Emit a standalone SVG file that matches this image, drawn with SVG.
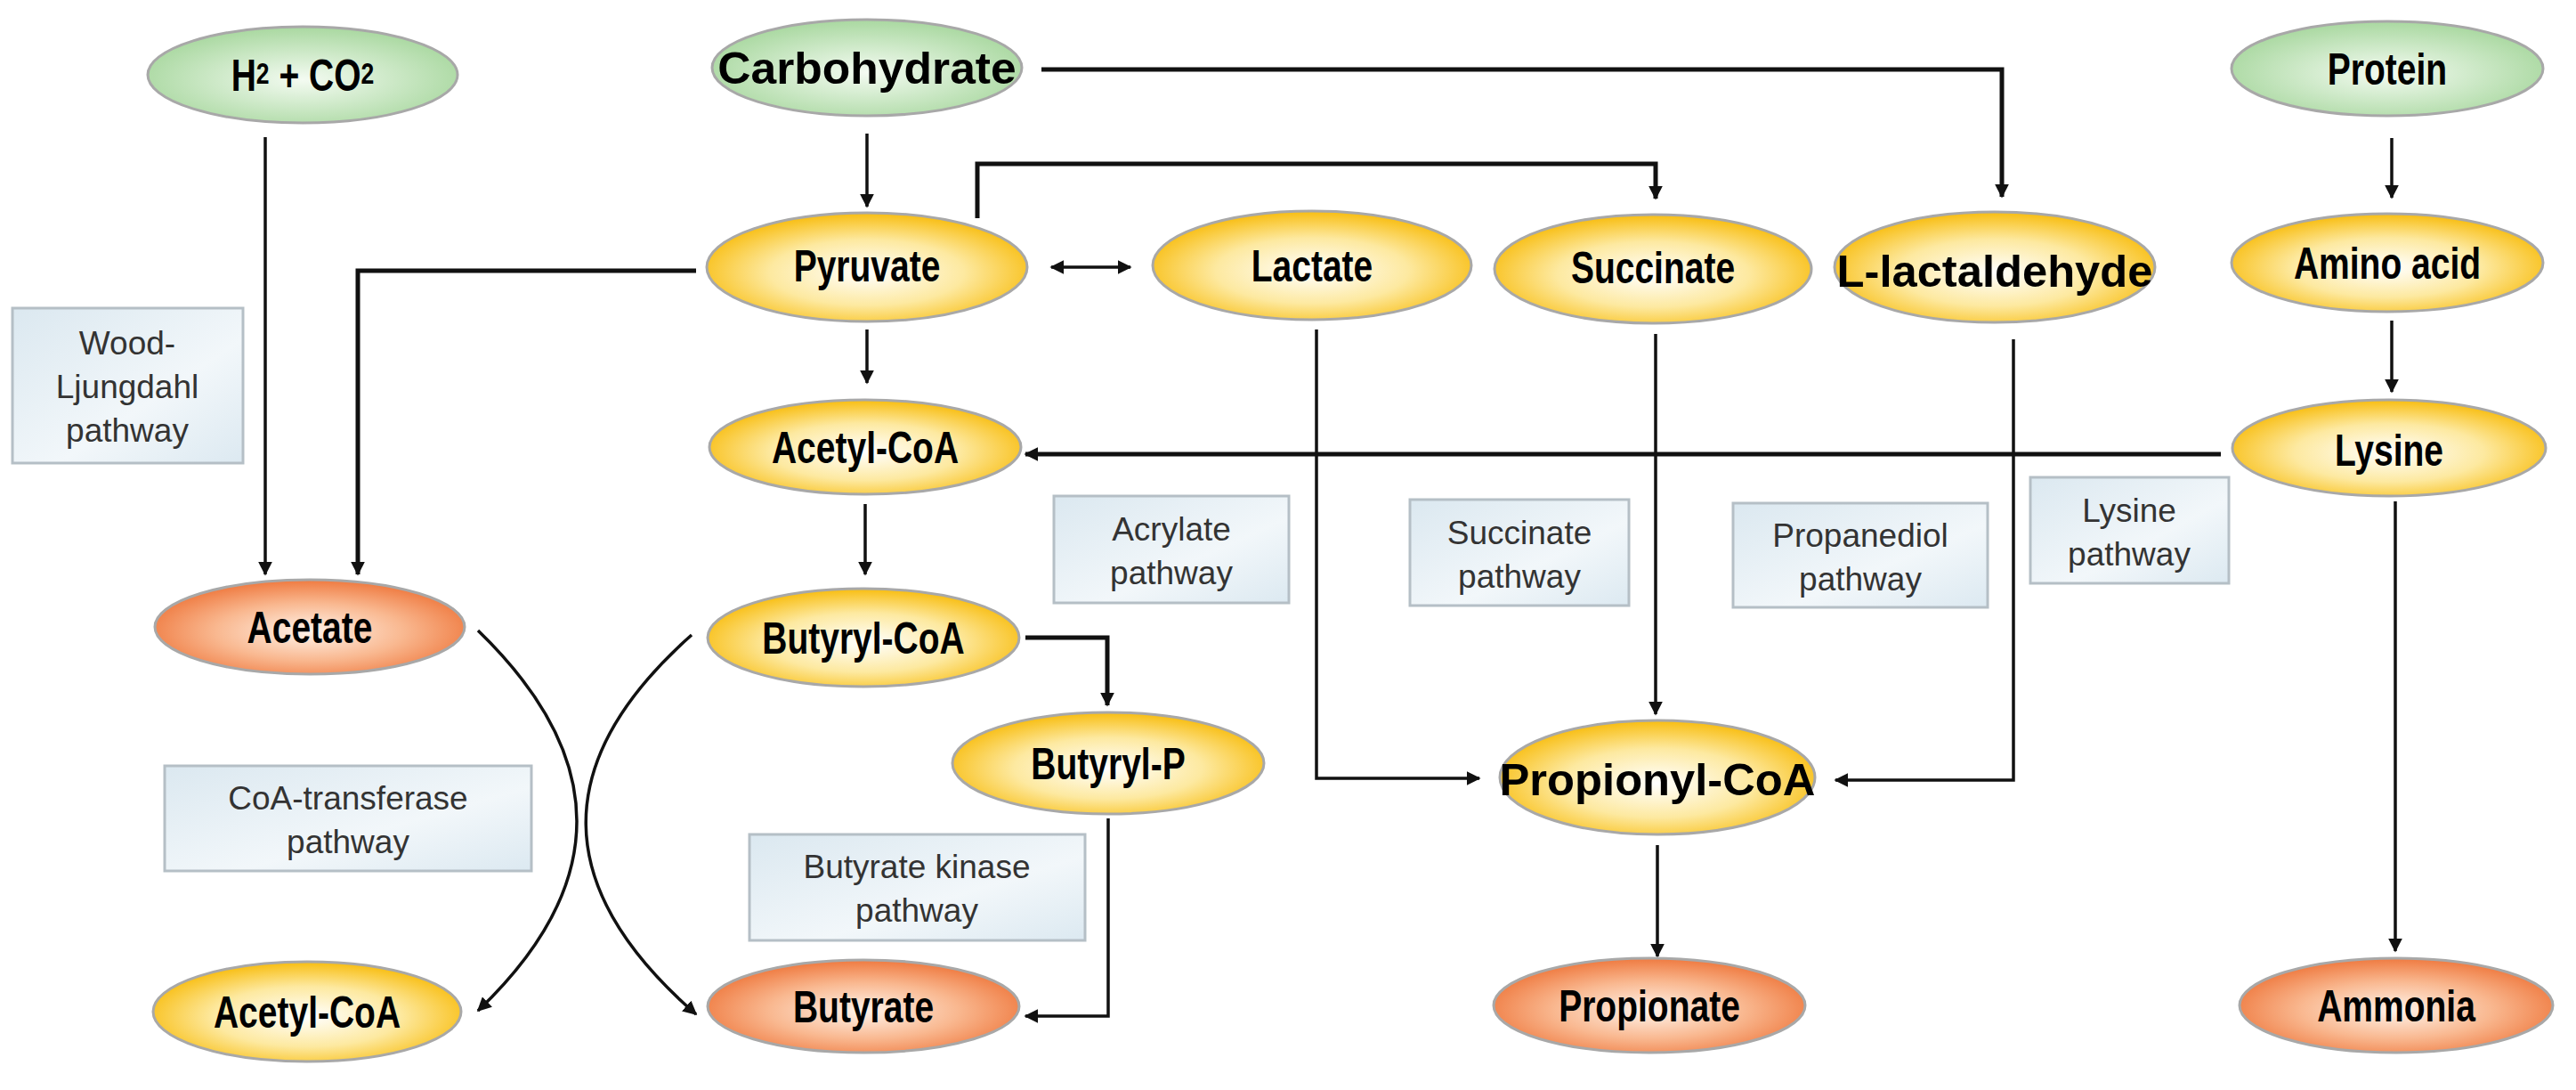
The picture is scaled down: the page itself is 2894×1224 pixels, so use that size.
<svg xmlns="http://www.w3.org/2000/svg" width="2894" height="1224" viewBox="0 0 2894 1224">
<defs>
<radialGradient id="gy" cx="50%" cy="55%" r="55%"><stop offset="0" stop-color="#ffffff"/><stop offset="0.55" stop-color="#fde9a0"/><stop offset="1" stop-color="#f8bd10"/></radialGradient>
<radialGradient id="gg" cx="50%" cy="55%" r="55%"><stop offset="0" stop-color="#f4fbf2"/><stop offset="1" stop-color="#a9d8a0"/></radialGradient>
<radialGradient id="go" cx="50%" cy="55%" r="55%"><stop offset="0" stop-color="#fff3ea"/><stop offset="0.55" stop-color="#f9b890"/><stop offset="1" stop-color="#ef7a40"/></radialGradient>
<linearGradient id="gb" x1="0" y1="0" x2="1" y2="1"><stop offset="0" stop-color="#dbe8f0"/><stop offset="0.6" stop-color="#f2f7fa"/><stop offset="1" stop-color="#dce9f1"/></linearGradient>
<marker id="as" viewBox="0 0 10 10" refX="9" refY="5" markerWidth="16" markerHeight="16" markerUnits="userSpaceOnUse" orient="auto-start-reverse"><path d="M0,0 L10,5 L0,10 z" fill="#111"/></marker>
</defs>
<style>
.n{stroke:#a8a8a8;stroke-width:3}
.t{font-family:"Liberation Sans",Arial,sans-serif;font-weight:bold;font-size:50px;fill:#000;text-anchor:middle}
.b{fill:url(#gb);stroke:#b5bfc6;stroke-width:3}
.bt{font-family:"Liberation Sans",Arial,sans-serif;font-size:37px;fill:#333;text-anchor:middle}
.c{fill:none;stroke:#111;stroke-width:3.5}
.k{fill:none;stroke:#111;stroke-width:5}
</style>
<rect width="2894" height="1224" fill="#fff"/>
<g id="connectors">
<path class="c" d="M298,154 V645" marker-end="url(#as)"/>
<path class="k" d="M782,304 H402 V645" marker-end="url(#as)"/>
<path class="c" d="M974,150 V232" marker-end="url(#as)"/>
<path class="k" d="M1170,78 H2249 V221" marker-end="url(#as)"/>
<path class="k" d="M1098,245 V184 H1860 V223" marker-end="url(#as)"/>
<path class="c" d="M1181,300 H1270" marker-start="url(#as)" marker-end="url(#as)"/>
<path class="c" d="M974,370 V430" marker-end="url(#as)"/>
<path class="c" d="M2687,155 V222" marker-end="url(#as)"/>
<path class="c" d="M2687,360 V440" marker-end="url(#as)"/>
<path class="k" d="M2495,510 H1152" marker-end="url(#as)"/>
<path class="c" d="M1479,370 V874 H1662" marker-end="url(#as)"/>
<path class="c" d="M1860,375 V802" marker-end="url(#as)"/>
<path class="c" d="M2262,381 V876 H2062" marker-end="url(#as)"/>
<path class="c" d="M2691,563 V1068" marker-end="url(#as)"/>
<path class="c" d="M1862,949 V1074" marker-end="url(#as)"/>
<path class="c" d="M972,566 V645" marker-end="url(#as)"/>
<path class="k" d="M1152,716 H1244 V792" marker-end="url(#as)"/>
<path class="c" d="M1245,919 V1141 H1152" marker-end="url(#as)"/>
<path class="c" d="M537,708 Q759,923 537,1135" marker-end="url(#as)"/>
<path class="c" d="M777,713 Q537,926 782,1139" marker-end="url(#as)"/>
</g>
<g id="box-wood"><rect class="b" x="14" y="346" width="259" height="174"/><text class="bt" x="143" y="398">Wood-</text><text class="bt" x="143" y="447">Ljungdahl</text><text class="bt" x="143" y="496">pathway</text></g>
<g id="box-acrylate"><rect class="b" x="1184" y="557" width="264" height="120"/><text class="bt" x="1316" y="607">Acrylate</text><text class="bt" x="1316" y="656">pathway</text></g>
<g id="box-succinate"><rect class="b" x="1584" y="561" width="246" height="119"/><text class="bt" x="1707" y="611">Succinate</text><text class="bt" x="1707" y="660">pathway</text></g>
<g id="box-propanediol"><rect class="b" x="1947" y="565" width="286" height="117"/><text class="bt" x="2090" y="614">Propanediol</text><text class="bt" x="2090" y="663">pathway</text></g>
<g id="box-lysine"><rect class="b" x="2281" y="536" width="223" height="119"/><text class="bt" x="2392" y="586">Lysine</text><text class="bt" x="2392" y="635">pathway</text></g>
<g id="box-coa"><rect class="b" x="185" y="860" width="412" height="118"/><text class="bt" x="391" y="909">CoA-transferase</text><text class="bt" x="391" y="958">pathway</text></g>
<g id="box-bk"><rect class="b" x="842" y="937" width="377" height="119"/><text class="bt" x="1030" y="986">Butyrate kinase</text><text class="bt" x="1030" y="1035">pathway</text></g>
<g id="h2co2"><ellipse class="n" cx="340" cy="84" rx="174" ry="54" fill="url(#gg)"/><text class="t" transform="translate(340,102) scale(0.78,1)">H<tspan font-size="34" dy="-8">2</tspan><tspan dy="8"> + CO</tspan><tspan font-size="34" dy="-8">2</tspan></text></g>
<g id="carbohydrate"><ellipse class="n" cx="974" cy="76" rx="174" ry="54" fill="url(#gg)"/><text class="t" transform="translate(974,94) scale(0.78,1)" textLength="430" lengthAdjust="spacingAndGlyphs">Carbohydrate</text></g>
<g id="protein"><ellipse class="n" cx="2682" cy="77" rx="175" ry="53" fill="url(#gg)"/><text class="t" transform="translate(2682,95) scale(0.78,1)">Protein</text></g>
<g id="pyruvate"><ellipse class="n" cx="974" cy="300" rx="180" ry="61" fill="url(#gy)"/><text class="t" transform="translate(974,316) scale(0.78,1)">Pyruvate</text></g>
<g id="lactate"><ellipse class="n" cx="1474" cy="298" rx="179" ry="61" fill="url(#gy)"/><text class="t" transform="translate(1474,316) scale(0.78,1)">Lactate</text></g>
<g id="succinate"><ellipse class="n" cx="1857" cy="302" rx="178" ry="61" fill="url(#gy)"/><text class="t" transform="translate(1857,318) scale(0.78,1)">Succinate</text></g>
<g id="lactaldehyde"><ellipse class="n" cx="2241" cy="300" rx="180" ry="62" fill="url(#gy)"/><text class="t" transform="translate(2241,322) scale(0.78,1)" textLength="455" lengthAdjust="spacingAndGlyphs">L-lactaldehyde</text></g>
<g id="aminoacid"><ellipse class="n" cx="2682" cy="295" rx="175" ry="55" fill="url(#gy)"/><text class="t" transform="translate(2682,313) scale(0.78,1)">Amino acid</text></g>
<g id="acetylcoa1"><ellipse class="n" cx="972" cy="502" rx="175" ry="53" fill="url(#gy)"/><text class="t" transform="translate(972,520) scale(0.78,1)">Acetyl-CoA</text></g>
<g id="lysine"><ellipse class="n" cx="2684" cy="503" rx="176" ry="54" fill="url(#gy)"/><text class="t" transform="translate(2684,523) scale(0.78,1)">Lysine</text></g>
<g id="acetate"><ellipse class="n" cx="348" cy="704" rx="174" ry="53" fill="url(#go)"/><text class="t" transform="translate(348,722) scale(0.78,1)">Acetate</text></g>
<g id="butyrylcoa"><ellipse class="n" cx="970" cy="716" rx="175" ry="55" fill="url(#gy)"/><text class="t" transform="translate(970,734) scale(0.78,1)">Butyryl-CoA</text></g>
<g id="butyrylp"><ellipse class="n" cx="1245" cy="857" rx="175" ry="57" fill="url(#gy)"/><text class="t" transform="translate(1245,875) scale(0.78,1)">Butyryl-P</text></g>
<g id="propionylcoa"><ellipse class="n" cx="1862" cy="873" rx="177" ry="64" fill="url(#gy)"/><text class="t" transform="translate(1862,893) scale(0.78,1)" textLength="455" lengthAdjust="spacingAndGlyphs">Propionyl-CoA</text></g>
<g id="acetylcoa2"><ellipse class="n" cx="345" cy="1136" rx="173" ry="56" fill="url(#gy)"/><text class="t" transform="translate(345,1154) scale(0.78,1)">Acetyl-CoA</text></g>
<g id="butyrate"><ellipse class="n" cx="970" cy="1130" rx="175" ry="52" fill="url(#go)"/><text class="t" transform="translate(970,1148) scale(0.78,1)">Butyrate</text></g>
<g id="propionate"><ellipse class="n" cx="1853" cy="1129" rx="175" ry="53" fill="url(#go)"/><text class="t" transform="translate(1853,1147) scale(0.78,1)">Propionate</text></g>
<g id="ammonia"><ellipse class="n" cx="2692" cy="1129" rx="176" ry="53" fill="url(#go)"/><text class="t" transform="translate(2692,1147) scale(0.78,1)">Ammonia</text></g>
</svg>
